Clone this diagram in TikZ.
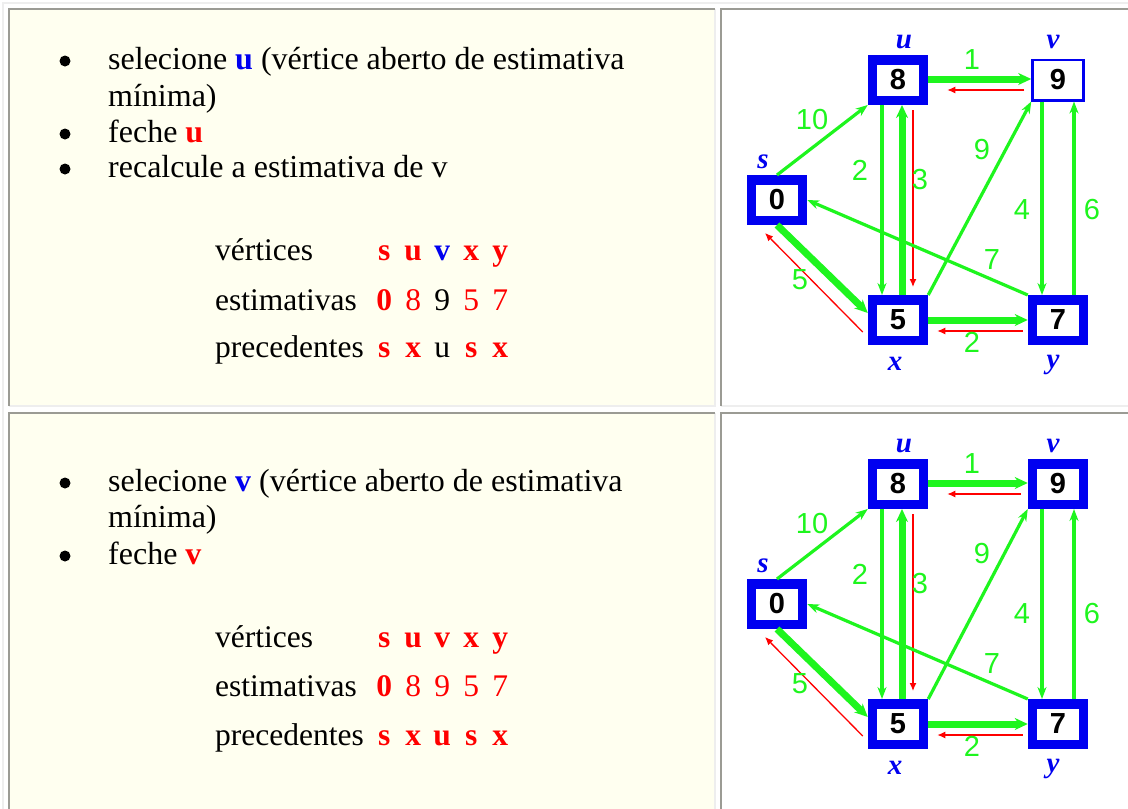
\documentclass[tikz,border=0pt]{standalone}
\usepackage{fontspec}
\setmainfont{Liberation Serif}
\newfontfamily\graphfont{Liberation Sans}
\usetikzlibrary{arrows.meta}

\definecolor{cellivory}{RGB}{255,255,240}
\definecolor{cellgray}{RGB}{155,155,148}
\definecolor{celllight}{RGB}{238,238,238}
\definecolor{edgegreen}{RGB}{30,245,30}
\definecolor{boxblue}{RGB}{0,0,240}
\definecolor{pathred}{RGB}{255,0,0}

\newcommand{\rb}[1]{\textcolor{pathred}{\textbf{#1}}}
\newcommand{\bb}[1]{\textcolor{boxblue}{\textbf{#1}}}
\newcommand{\rn}[1]{\textcolor{pathred}{#1}}
\newcommand{\col}[1]{\makebox[29pt]{#1}}

\begin{document}
\begin{tikzpicture}[x=1pt, y=-1pt,
    txt/.style={anchor=base west, inner sep=0pt, font=\fontsize{32}{36}\selectfont},
    tab/.style={anchor=base west, inner sep=0pt, font=\fontsize{31.5}{36}\selectfont},
    dot/.style={circle, fill=black, inner sep=0pt, minimum size=11pt},
    vbox/.style={draw=boxblue, fill=white, minimum width=51pt, minimum height=40.5pt,
        inner sep=0pt, font=\graphfont\bfseries\fontsize{29}{29}\selectfont},
    vname/.style={anchor=base, inner sep=0pt, text=boxblue,
        font=\bfseries\itshape\fontsize{29}{29}\selectfont},
    weight/.style={inner sep=0pt, text=edgegreen, font=\graphfont\fontsize{29}{29}\selectfont},
    edge/.style={draw=edgegreen, line width=3.2pt, -{Stealth[length=12pt,width=9pt]}},
    tree/.style={draw=edgegreen, line width=7pt, -{Stealth[length=13pt,width=12pt]}},
    back/.style={draw=pathred, line width=1.3pt, -{Latex[length=8pt,width=7pt]}}]

\useasboundingbox (0,0) rectangle (1128,809);
\clip (0,0) rectangle (1128,809);
\fill[white] (0,0) rectangle (1128,809);
\draw[celllight, line width=1.5pt] (3,809) |- (1128,3);

% table cells
\foreach \xa/\ya/\xb/\yb/\c in {9/9/715/406/cellivory, 721/9/1140/406/white,
    9/413/715/820/cellivory, 721/413/1140/820/white} {
  \fill[\c] (\xa,\ya) rectangle (\xb,\yb);
  \draw[celllight, line width=1.5pt] (\xa,\yb) -| (\xb,\ya);
  \draw[cellgray, line width=1.5pt] (\xa,\yb) |- (\xb,\ya);
}

% first step
\node[dot] (b1) at (65,61) {};
\node[txt] (l1) at (108,69) {selecione \bb{u} (vértice aberto de estimativa};
\node[txt] (l2) at (108,106) {mínima)};
\node[dot] (b2) at (65,134) {};
\node[txt] (l3) at (108,142) {feche \rb{u}};
\node[dot] (b3) at (65,169) {};
\node[txt] (l4) at (108,177) {recalcule a estimativa de v};

\node[tab] (vert1) at (215,260) {vértices};
\node[tab] (vvals1) at (369.5,260) {\col{\rb{s}}\col{\rb{u}}\col{\bb{v}}\col{\rb{x}}\col{\rb{y}}};
\node[tab] (est1) at (215,310) {estimativas};
\node[tab] (evals1) at (369.5,310) {\col{\rb{0}}\col{\rn{8}}\col{9}\col{\rn{5}}\col{\rn{7}}};
\node[tab] (prec1) at (215,357) {precedentes};
\node[tab] (pvals1) at (369.5,357) {\col{\rb{s}}\col{\rb{x}}\col{u}\col{\rb{s}}\col{\rb{x}}};

% second step
\node[dot] (b4) at (65,483) {};
\node[txt] (l5) at (108,491) {selecione \bb{v} (vértice aberto de estimativa};
\node[txt] (l6) at (108,527) {mínima)};
\node[dot] (b5) at (65,556) {};
\node[txt] (l7) at (108,564) {feche \rb{v}};

\node[tab] (vert2) at (215,647) {vértices};
\node[tab] (vvals2) at (369.5,647) {\col{\rb{s}}\col{\rb{u}}\col{\rb{v}}\col{\rb{x}}\col{\rb{y}}};
\node[tab] (est2) at (215,696) {estimativas};
\node[tab] (evals2) at (369.5,696) {\col{\rb{0}}\col{\rn{8}}\col{\rn{9}}\col{\rn{5}}\col{\rn{7}}};
\node[tab] (prec2) at (215,745) {precedentes};
\node[tab] (pvals2) at (369.5,745) {\col{\rb{s}}\col{\rb{x}}\col{\rb{u}}\col{\rb{s}}\col{\rb{x}}};

% the graph, once per step
\foreach \r/\vw in {0/2.5pt, 404/9.5pt} {
  \begin{scope}[yshift=-\r pt]
    \node[vbox, line width=9.5pt] (s\r) at (777,200) {0};
    \node[vbox, line width=9.5pt] (u\r) at (898,80) {8};
    \node[vbox, line width=\vw] (v\r) at (1058,80) {9};
    \node[vbox, line width=9.5pt] (x\r) at (898,320) {5};
    \node[vbox, line width=9.5pt] (y\r) at (1058,320) {7};

    \node[vname] (ns\r) at (763,168) {s};
    \node[vname] (nu\r) at (904,48) {u};
    \node[vname] (nv\r) at (1053,48) {v};
    \node[vname] (nx\r) at (895,370) {x};
    \node[vname] (ny\r) at (1053,368) {y};

    \draw[edge] (s\r.north) -- (u\r.south west);
    \draw[tree] (s\r.south) -- ([yshift=7pt]x\r.west);
    \draw[back] ([xshift=-5pt,yshift=-12pt]x\r.west) -- ([xshift=-12pt,yshift=-8pt]s\r.south);
    \draw[edge] ([xshift=-16pt]u\r.south) -- ([xshift=-16pt]x\r.north);
    \draw[tree] ([xshift=4pt]x\r.north) -- ([xshift=4pt]u\r.south);
    \draw[back] ([xshift=15pt,yshift=-5pt]u\r.south) -- ([xshift=15pt,yshift=8pt]x\r.north);
    \draw[tree] ([yshift=1pt]u\r.east) -- ([yshift=1pt]v\r.west);
    \draw[back] ([xshift=-7pt,yshift=-10pt]v\r.west) -- ([xshift=19pt,yshift=-10pt]u\r.east);
    \draw[edge] (x\r.north east) -- (v\r.south west);
    \draw[edge] ([xshift=-16pt]v\r.south) -- ([xshift=-16pt]y\r.north);
    \draw[edge] ([xshift=16pt]y\r.north) -- ([xshift=16pt]v\r.south);
    \draw[edge] (y\r.north west) -- (s\r.east);
    \draw[tree] (x\r.east) -- (y\r.west);
    \draw[back] ([xshift=-5pt,yshift=-11pt]y\r.west) -- ([xshift=9pt,yshift=-11pt]x\r.east);

    \node[weight] (wsu\r) at (812,120) {10};
    \node[weight] (wsx\r) at (800,280) {5};
    \node[weight] (wux\r) at (860,170) {2};
    \node[weight] (wxu\r) at (920,180) {3};
    \node[weight] (wuv\r) at (972,60) {1};
    \node[weight] (wxv\r) at (982,150) {9};
    \node[weight] (wvy\r) at (1022,210) {4};
    \node[weight] (wyv\r) at (1092,210) {6};
    \node[weight] (wys\r) at (992,260) {7};
    \node[weight] (wxy\r) at (972,342) {2};
  \end{scope}
}
\end{tikzpicture}
\end{document}
